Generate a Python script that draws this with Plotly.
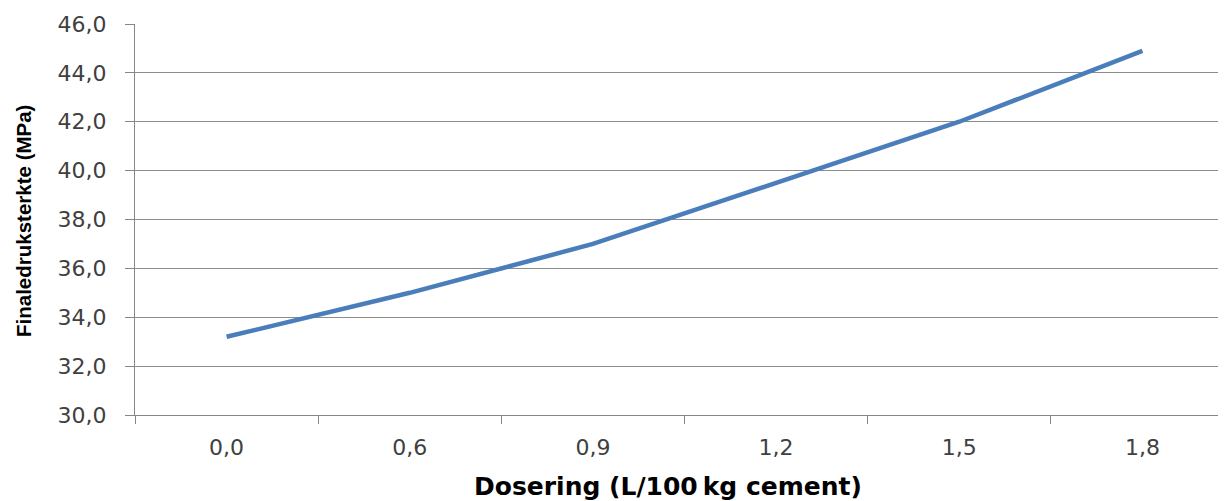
import plotly.graph_objects as go

categories = ["0,0", "0,6", "0,9", "1,2", "1,5", "1,8"]
strength = [33.2, 35.0, 37.0, 39.5, 42.0, 44.9]
y_title = "Finaledruksterkte (MPa)"
x_title = "Dosering (L/100\u2009kg cement)"

fig = go.Figure()
fig.add_trace(go.Scatter(
    x=categories, y=strength, mode="lines",
    line=dict(color="#4a7ebb", width=4.5),
    showlegend=False,
))

axis_font = dict(family="DejaVu Sans, Verdana, sans-serif", size=22, color="#404040")

fig.update_layout(
    width=1226, height=501,
    margin=dict(l=127, r=0, t=16, b=94),
    plot_bgcolor="white", paper_bgcolor="white",
    separators=",.",
    xaxis=dict(
        type="category", range=[-0.5, 5.5],
        showgrid=False, showline=True, linecolor="#868686", linewidth=1.3,
        ticks="outside", tickson="boundaries", ticklen=8, tickcolor="#868686", tickwidth=1.3,
        tickfont=axis_font, ticklabelstandoff=12,
    ),
    yaxis=dict(
        range=[30, 46], dtick=2, tickformat=".1f",
        showgrid=True, gridcolor="#8c8c8c", gridwidth=1.3,
        showline=True, linecolor="#868686", linewidth=1.3,
        ticks="outside", ticklen=9, tickcolor="#868686", tickwidth=1.3,
        tickfont=axis_font, ticklabelstandoff=14, zeroline=False,
    ),
    annotations=[
        dict(text=x_title, xref="paper", yref="paper", x=0.485, y=-0.183,
             xanchor="center", yanchor="middle", showarrow=False,
             font=dict(family="DejaVu Sans, Verdana, sans-serif", size=25, color="#000000", weight="bold")),
        dict(text=y_title, xref="paper", yref="paper", x=-0.102, y=0.496,
             xanchor="center", yanchor="middle", showarrow=False, textangle=-90,
             font=dict(family="Liberation Sans Narrow, Arial Narrow, Liberation Sans, Arial", size=20.5, color="#000000", weight="bold")),
    ],
)

fig.write_html("out.html")
